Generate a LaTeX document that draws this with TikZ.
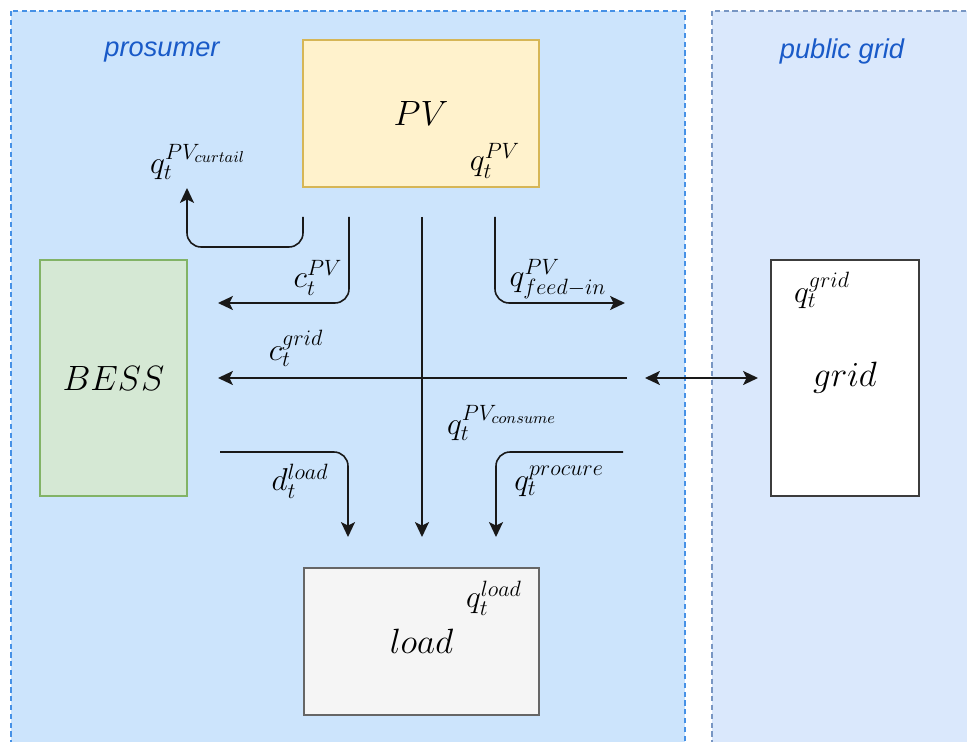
\documentclass[tikz,border=0pt]{standalone}
\usepackage{fix-cm}
\usepackage{fontspec}
\usepackage{tikz}
\usetikzlibrary{arrows.meta, positioning}

\newfontfamily\zonefont{Liberation Sans}

\definecolor{prosumerfill}{RGB}{204,228,252}
\definecolor{prosumerline}{RGB}{70,145,230}
\definecolor{gridzonefill}{RGB}{218,232,252}
\definecolor{gridzoneline}{RGB}{120,150,195}
\definecolor{zonetext}{RGB}{25,90,200}
\definecolor{pvfill}{RGB}{255,242,204}
\definecolor{pvline}{RGB}{214,182,86}
\definecolor{bessfill}{RGB}{213,232,212}
\definecolor{bessline}{RGB}{130,179,102}
\definecolor{loadfill}{RGB}{245,245,245}
\definecolor{loadline}{RGB}{102,102,102}
\definecolor{gridline}{RGB}{60,60,60}
\definecolor{flowline}{RGB}{25,25,25}

\tikzset{
    >={Stealth[length=8.5pt, width=8pt, inset=2pt]},
    zone/.style={line width=1.2pt, dash pattern=on 3pt off 2pt},
    zonetitle/.style={font=\zonefont\itshape\fontsize{15.5}{18}\selectfont, text=zonetext, inner sep=0pt},
    block/.style={line width=0.9pt, inner sep=0pt, font=\fontsize{20}{24}\selectfont},
    lbl/.style={font=\fontsize{18}{21}\selectfont, inner sep=0pt},
    flow/.style={line width=0.9pt, draw=flowline, rounded corners=8pt, ->},
}

\begin{document}
\begin{tikzpicture}[x=0.02cm, y=-0.02cm]
    \useasboundingbox (0,0) rectangle (967,742);
    \clip (0,0) rectangle (967,742);

    % zones
    \filldraw[zone, fill=prosumerfill, draw=prosumerline] (11,11) rectangle (685,790);
    \filldraw[zone, line width=0.6pt, fill=gridzonefill, draw=gridzoneline] (712,11) rectangle (1000,790);
    \node[zonetitle] (prosumer) at (162,52) {prosumer};
    \node[zonetitle] (public) at (842,51) {public grid};

    % blocks
    \node[block, fill=pvfill, draw=pvline, minimum width=4.72cm, minimum height=2.94cm] (PV) at (421,113.5) {$PV$};
    \node[block, fill=bessfill, draw=bessline, minimum width=2.94cm, minimum height=4.72cm] (BESS) at (113.5,378) {$BESS$};
    \node[block, fill=loadfill, draw=loadline, minimum width=4.70cm, minimum height=2.94cm] (load) at (421.5,641.5) {$load$};
    \node[block, fill=white, draw=gridline, minimum width=2.96cm, minimum height=4.72cm] (grid) at (845,378) {$grid$};

    \node[lbl] (qPV) at (495,161) {$q_t^{PV}$};
    \node[lbl] (qload) at (494,598) {$q_t^{load}$};
    \node[lbl] (qgrid) at (822,290) {$q_t^{grid}$};

    % flows
    \coordinate (curtS) at (303,217);
    \coordinate (curtE) at (187,188);
    \coordinate (cpvS) at (349,217);
    \coordinate (cpvE) at (218,303);
    \coordinate (consS) at (422,217);
    \coordinate (consE) at (422,537);
    \coordinate (feedS) at (495,217);
    \coordinate (feedE) at (625,303);
    \coordinate (cgridS) at (627,378);
    \coordinate (cgridE) at (218,378);
    \coordinate (exchS) at (645,378);
    \coordinate (exchE) at (758,378);
    \coordinate (dloadS) at (220,452);
    \coordinate (dloadE) at (348,537);
    \coordinate (procS) at (623,452);
    \coordinate (procE) at (496,537);

    \draw[flow] (curtS) -- ++(0,30) -| (curtE);
    \draw[flow] (cpvS) |- (cpvE);
    \draw[flow] (consS) -- (consE);
    \draw[flow] (feedS) |- (feedE);
    \draw[flow] (cgridS) -- (cgridE);
    \draw[flow, <->] (exchS) -- (exchE);
    \draw[flow] (dloadS) -| (dloadE);
    \draw[flow] (procS) -| (procE);

    \node[lbl] (lcurt) at (198,162) {$q_t^{PV_{curtail}}$};
    \node[lbl] (lcpv) at (318,278) {$c_t^{PV}$};
    \node[lbl] (lfeed) at (558,279) {$q_{feed-in}^{PV}$};
    \node[lbl] (lcgrid) at (296,348) {$c_t^{grid}$};
    \node[lbl] (lcons) at (502,423) {$q_t^{PV_{consume}}$};
    \node[lbl] (ldload) at (300,481) {$d_t^{load}$};
    \node[lbl] (lproc) at (559,481) {$q_t^{procure}$};
\end{tikzpicture}
\end{document}
